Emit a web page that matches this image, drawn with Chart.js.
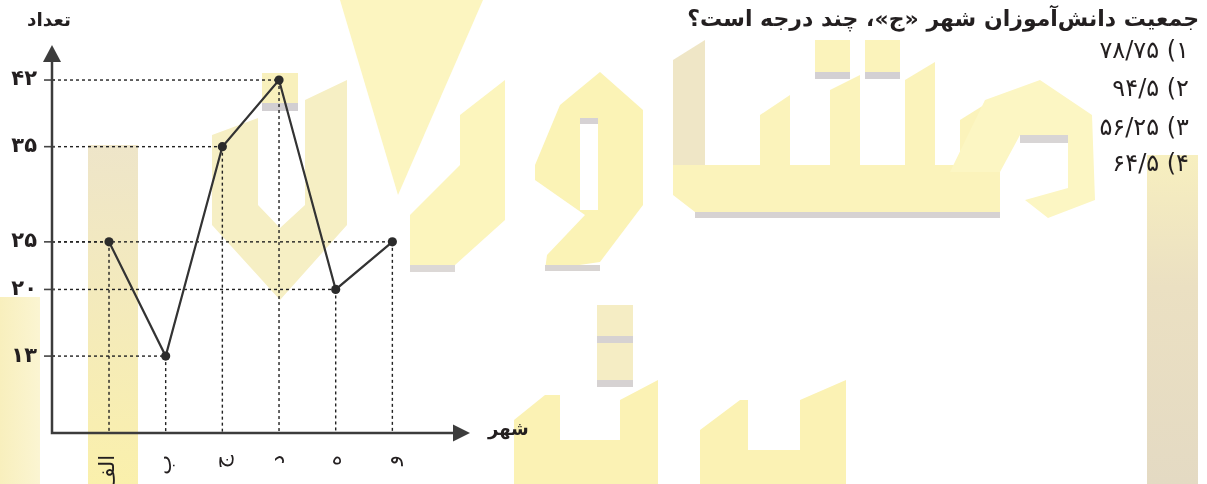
<!DOCTYPE html>
<html><head><meta charset="utf-8">
<script src="https://cdn.jsdelivr.net/npm/chart.js@4/dist/chart.umd.min.js"></script>
<style>
html,body{margin:0;padding:0;background:#fff;width:1207px;height:484px;overflow:hidden;}
#wm{position:absolute;left:0;top:0;}
#wrap{position:absolute;left:0;top:0;width:1207px;height:484px;}
.txt{position:absolute;direction:rtl;font-family:'DejaVu Sans',sans-serif;color:#231f20;white-space:nowrap;line-height:1;}
.opt{position:absolute;direction:ltr;unicode-bidi:bidi-override;font-family:'DejaVu Sans',sans-serif;color:#231f20;white-space:nowrap;line-height:1;}
</style></head>
<body>
<svg id="wm" width="1207" height="484" xmlns="http://www.w3.org/2000/svg">
<defs>
<linearGradient id="gBar" x1="0" y1="0" x2="0" y2="1"><stop offset="0" stop-color="#eee5c9"/><stop offset="1" stop-color="#faf0ac"/></linearGradient>
<linearGradient id="gTan" x1="0" y1="0" x2="0" y2="1"><stop offset="0" stop-color="#f7efbf"/><stop offset="0.4" stop-color="#ebe0c2"/><stop offset="1" stop-color="#e4dac3"/></linearGradient>
<linearGradient id="gPatch" x1="0" y1="0" x2="1" y2="0"><stop offset="0" stop-color="#f8efbd"/><stop offset="1" stop-color="#fbf5d2"/></linearGradient>
</defs>
<rect x="88" y="145" width="50" height="339" fill="url(#gBar)"/>
<rect x="0" y="297" width="40" height="187" fill="url(#gPatch)"/>
<polygon points="340,0 483,0 398,195" fill="#fcf5c0"/>
<polygon points="212,135 258,118 258,205 280,228 305,205 305,100 347,80 347,225 280,300 212,225" fill="#f6efc4"/>
<rect x="262" y="73" width="36" height="30" fill="#f8f0bc"/>
<rect x="262" y="103" width="36" height="8" fill="#d2cfd2"/>
<polygon points="410,265 410,215 460,165 460,115 505,80 505,220 455,265" fill="#fcf5bd"/>
<rect x="410" y="265" width="45" height="7" fill="#dcd8d6"/>
<polygon points="535,165 560,105 600,72 643,110 643,205 600,262 545,270 547,255 585,215 535,180" fill="#fbf3b6"/>
<rect x="580" y="118" width="18" height="92" fill="#fff"/>
<rect x="580" y="118" width="18" height="6" fill="#d6d2d4"/>
<rect x="545" y="265" width="55" height="6" fill="#d8d4d2"/>
<polygon points="673,60 705,40 705,165 673,165" fill="#efe6c6"/>
<polygon points="673,165 1000,165 1000,212 695,212 673,195" fill="#fbf3bb"/>
<rect x="695" y="212" width="305" height="6" fill="#d6d2d2"/>
<polygon points="760,165 760,115 790,95 790,165" fill="#fbf3bb"/>
<polygon points="830,165 830,90 860,75 860,165" fill="#fbf3bb"/>
<polygon points="905,165 905,80 935,62 935,165" fill="#fbf3bb"/>
<polygon points="960,165 960,120 1000,95 1000,165" fill="#fbf3bb"/>
<rect x="815" y="40" width="35" height="32" fill="#fbf3bb"/>
<rect x="815" y="72" width="35" height="7" fill="#d3d0d3"/>
<rect x="865" y="40" width="35" height="32" fill="#fbf3bb"/>
<rect x="865" y="72" width="35" height="7" fill="#d3d0d3"/>
<polygon points="950,172 985,100 1040,80 1092,115 1095,200 1048,218 1025,200 1068,188 1068,135 1020,135 1000,172" fill="#fcf6c3"/>
<rect x="1020" y="135" width="48" height="8" fill="#d8d5d5"/>
<rect x="1147" y="155" width="51" height="329" fill="url(#gTan)"/>
<polygon points="514,484 514,420 545,395 560,395 560,440 620,440 620,400 658,380 658,484" fill="#fbf2b4"/>
<rect x="597" y="305" width="36" height="80" fill="#f5edc4"/>
<rect x="597" y="336" width="36" height="7" fill="#d6d2d2"/>
<rect x="597" y="380" width="36" height="7" fill="#d6d2d2"/>
<polygon points="700,484 700,430 740,400 748,400 748,450 800,450 800,400 846,380 846,484" fill="#fbf2b4"/>
</svg>
<div id="wrap"><canvas id="c" width="1207" height="484"></canvas></div>
<div class="txt" style="left:27px;top:11px;font-weight:bold;font-size:18.5px;">تعداد</div>
<div class="txt" style="left:488px;top:420px;font-weight:bold;font-size:18px;">شهر</div>
<div class="txt" style="right:8px;top:8px;font-weight:bold;font-size:22px;">جمعیت دانش‌آموزان شهر «ج»، چند درجه است؟</div>
<div id="opts"></div>
<script>
const categories = ['الف','ب','ج','د','ه','و'];
const values = [25, 13, 35, 42, 20, 25];
const yTickValues = [13, 20, 25, 35, 42];
const yTickLabels = ['۱۳','۲۰','۲۵','۳۵','۴۲'];
const optionNumbers = ['۱','۲','۳','۴'];
const optionValues = ['۷۸/۷۵','۹۴/۵','۵۶/۲۵','۶۴/۵'];

const optTops = [38, 76, 115, 151];
optionValues.forEach((v,i)=>{
  const d=document.createElement('div');
  d.className='opt';
  d.style.right='18px'; d.style.top=optTops[i]+'px'; d.style.fontSize='24px';
  d.textContent=v+' ('+optionNumbers[i];
  document.getElementById('opts').appendChild(d);
});

const guides = {
  id:'guides',
  beforeDatasetsDraw(chart){
    const {ctx, scales:{x,y}, chartArea:a} = chart;
    const x0=a.left, y0=a.bottom;
    ctx.save();
    ctx.strokeStyle='#222'; ctx.lineWidth=1.4; ctx.setLineDash([3,3]);
    values.forEach((v,i)=>{
      const px=x.getPixelForValue(i), py=y.getPixelForValue(v);
      ctx.beginPath(); ctx.moveTo(x0,py); ctx.lineTo(px,py); ctx.stroke();
      ctx.beginPath(); ctx.moveTo(px,py); ctx.lineTo(px,y0); ctx.stroke();
    });
    ctx.setLineDash([]);
    ctx.strokeStyle='#444'; ctx.lineWidth=1.6;
    yTickValues.forEach(v=>{
      const py=y.getPixelForValue(v);
      ctx.beginPath(); ctx.moveTo(x0-8,py); ctx.lineTo(x0+3,py); ctx.stroke();
    });
    ctx.strokeStyle='#3c3c3c'; ctx.lineWidth=2.5;
    ctx.beginPath(); ctx.moveTo(x0,a.top+12); ctx.lineTo(x0,y0); ctx.lineTo(a.right-12,y0); ctx.stroke();
    ctx.fillStyle='#3c3c3c';
    ctx.beginPath(); ctx.moveTo(x0,a.top); ctx.lineTo(x0-9,a.top+17); ctx.lineTo(x0+9,a.top+17); ctx.closePath(); ctx.fill();
    ctx.beginPath(); ctx.moveTo(a.right,y0); ctx.lineTo(a.right-17,y0-8.5); ctx.lineTo(a.right-17,y0+8.5); ctx.closePath(); ctx.fill();
    ctx.restore();
  }
};

new Chart(document.getElementById('c'), {
  type:'line',
  data:{datasets:[{
    data: values.map((v,i)=>({x:i,y:v})),
    borderColor:'#333', borderWidth:2.2, tension:0,
    pointRadius:4.6, pointBackgroundColor:'#2b2b2b', pointBorderWidth:0
  }]},
  options:{
    responsive:false, animation:false, events:[],
    layout:{padding:{top:45,right:737,left:0,bottom:0}},
    plugins:{legend:{display:false}, tooltip:{enabled:false}},
    scales:{
      x:{type:'linear', min:-1.006, max:6.37,
        grid:{display:false}, border:{display:false},
        afterBuildTicks:s=>{ s.ticks = categories.map((_,i)=>({value:i})); },
        afterFit:s=>{ s.height = 51; },
        ticks:{minRotation:90, maxRotation:90, autoSkip:false, padding:14, color:'#231f20',
          font:{family:'DejaVu Sans', size:21},
          callback:(v)=>categories[v]}
      },
      y:{type:'linear', min:4.92, max:45.68,
        grid:{display:false},
        border:{display:false},
        afterBuildTicks:s=>{ s.ticks = yTickValues.map(v=>({value:v})); },
        afterFit:s=>{ s.width = 52; },
        ticks:{padding:7, color:'#231f20', font:{family:'DejaVu Sans', size:21, weight:'bold'},
          callback:(v)=>yTickLabels[yTickValues.indexOf(v)]}
      }
    }
  },
  plugins:[guides]
});
</script>
</body></html>
